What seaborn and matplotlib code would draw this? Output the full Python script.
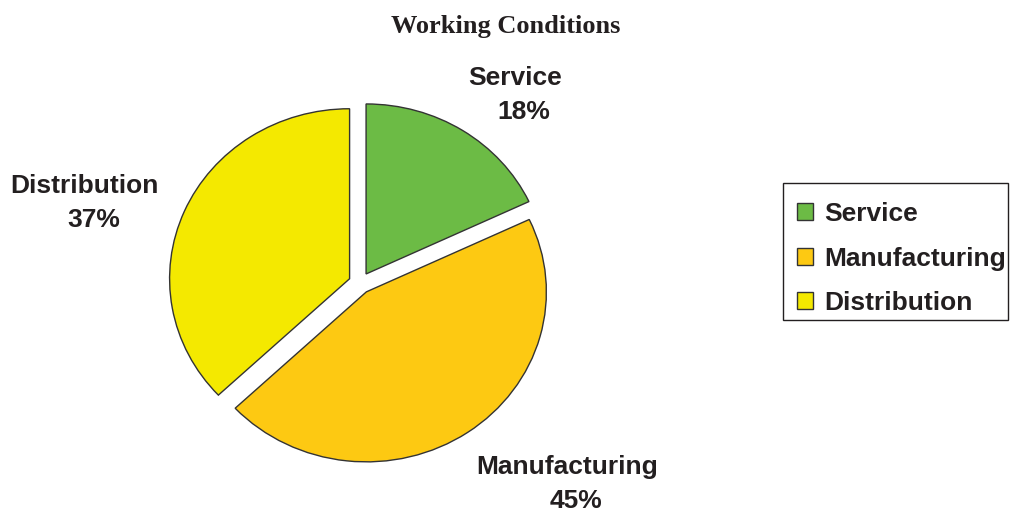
import matplotlib
matplotlib.use("Agg")
import matplotlib.pyplot as plt
from matplotlib.patches import Rectangle
import seaborn as sns

# Share of working-conditions responses by sector
categories = ["Service", "Manufacturing", "Distribution"]
shares = [18, 45, 37]
colors = ["#6CBB45", "#FDC912", "#F4E900"]

sns.set_theme(style="white")
plt.rcParams["font.family"] = ["Liberation Sans", "DejaVu Sans"]

W, H = 1011, 514
fig = plt.figure(figsize=(W / 100, H / 100), dpi=100)

# Pie axes placed in pixel units; x and y are scaled slightly differently
cx, cy = 360, H - 283
rx, ry = 180, 170
lim = 1.25
ax = fig.add_axes([(cx - lim * rx) / W, (cy - lim * ry) / H,
                   2 * lim * rx / W, 2 * lim * ry / H])

palette = sns.color_palette(colors)
wedges, _ = ax.pie(
    shares,
    colors=palette,
    startangle=90,
    counterclock=False,
    explode=[0.063] * len(shares),
    wedgeprops=dict(edgecolor="#333333", linewidth=1.0),
)
ax.set_aspect("auto")
ax.set_xlim(-lim, lim)
ax.set_ylim(-lim, lim)
ax.axis("off")

# Category labels (name above, percentage below) around the pie
label_pos = {
    "Service": (0.861, 1.110),
    "Manufacturing": (1.15, -1.178),
    "Distribution": (-1.531, 0.479),
}
txt_kw = dict(ha="center", va="center", fontsize=19, fontweight="bold",
              color="#231F20", textcoords="offset pixels",
              annotation_clip=False)
for name, val in zip(categories, shares):
    x, y = label_pos[name]
    ax.annotate(name, xy=(x, y), xytext=(0, 16), **txt_kw)
    ax.annotate(f"{val}%", xy=(x, y), xytext=(9, -18), **txt_kw)

fig.text(0.5, 1 - 27 / H, "Working Conditions", ha="center", va="center",
         fontsize=19, fontweight="bold", family="Liberation Serif",
         color="#231F20")

# Legend entries, boxed by a plain rectangle
leg = fig.legend(
    wedges, categories,
    loc="upper left",
    bbox_to_anchor=(797 / W, 1 - 202 / H),
    frameon=False,
    prop=dict(size=19, weight="bold"),
    handlelength=0.6, handleheight=0.6, handletextpad=0.45,
    labelspacing=0.78, borderpad=0, borderaxespad=0,
)
for t in leg.get_texts():
    t.set_color("#231F20")

fig.add_artist(Rectangle((783 / W, 1 - 320 / H), 225 / W, 137 / H,
                         transform=fig.transFigure, fill=False,
                         edgecolor="#231F20", linewidth=1.0))

fig.savefig("out.png", dpi=100, facecolor="white")
